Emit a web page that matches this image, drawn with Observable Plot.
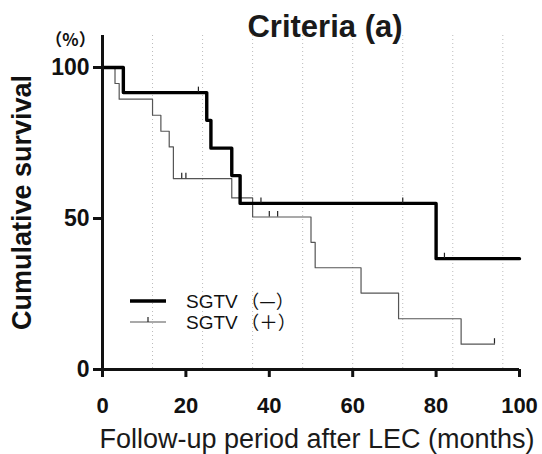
<!DOCTYPE html>
<html>
<head>
<meta charset="utf-8">
<script src="https://cdn.jsdelivr.net/npm/d3@7"></script>
<script src="https://cdn.jsdelivr.net/npm/@observablehq/plot@0.6"></script>
<style>
  html, body { margin: 0; padding: 0; background: #fff; }
  svg { display: block; }
</style>
</head>
<body>
<div id="chart"></div>
<script>
const title = "Criteria (a)";
const xLabel = "Follow-up period after LEC (months)";
const yLabel = "Cumulative survival";
const yUnit = "（%）";
const seriesNames = ["SGTV（—）", "SGTV（＋）"];

// SGTV (−): step times (months) and survival (%)
const negTimes = [0, 5, 25, 26, 31, 33, 80, 100];
const negSurv = [100, 91.7, 82.5, 73.3, 64.2, 55.0, 36.7, 36.7];
const negCensorTimes = [23, 38, 72, 82];
const negCensorSurv = [91.7, 55.0, 55.0, 36.7];

// SGTV (+)
const posTimes = [0, 3, 4, 12, 14, 16, 17, 31, 36, 50, 51, 62, 71, 86, 94];
const posSurv = [100, 94.7, 89.5, 84.2, 78.9, 73.7, 63.2, 56.8, 50.5, 42.1, 33.7, 25.3, 16.8, 8.4, 8.4];
const posCensorTimes = [19, 20, 40, 42, 94];
const posCensorSurv = [63.2, 63.2, 50.5, 50.5, 8.4];

const xTicks = [0, 20, 40, 60, 80, 100];
const yTicks = [0, 50, 100];
const gridTicks = [12, 24, 36, 48, 60, 72, 84, 96];

const neg = negTimes.map((t, i) => ({t, s: negSurv[i]}));
const pos = posTimes.map((t, i) => ({t, s: posSurv[i]}));
const negC = negCensorTimes.map((t, i) => ({t, s: negCensorSurv[i]}));
const posC = posCensorTimes.map((t, i) => ({t, s: posCensorSurv[i]}));

const font = "Liberation Sans, Arial, Helvetica, sans-serif";

const plot = Plot.plot({
  width: 542,
  height: 454,
  marginLeft: 102,
  marginRight: 23,
  marginTop: 35,
  marginBottom: 85,
  style: {fontFamily: font, color: "#111", background: "#fff", overflow: "visible"},
  x: {domain: [0, 100]},
  y: {domain: [0, 110.6]},
  marks: [
    Plot.gridX(gridTicks, {stroke: "#bbb", strokeOpacity: 1, strokeDasharray: "1,3", strokeWidth: 1}),
    // curves
    Plot.line(pos, {x: "t", y: "s", curve: "step-after", stroke: "#555", strokeWidth: 1.2}),
    Plot.line(neg, {x: "t", y: "s", curve: "step-after", stroke: "#000", strokeWidth: 3.4}),
    // censor marks
    Plot.ruleX(posC, {x: "t", y1: "s", y2: d => d.s + 1.8, stroke: "#222", strokeWidth: 1.2}),
    Plot.ruleX(negC, {x: "t", y1: "s", y2: d => d.s + 1.8, stroke: "#222", strokeWidth: 1.2}),
    // axis lines
    Plot.ruleX([0], {y1: 0, y2: 110.6, stroke: "#111", strokeWidth: 3}),
    Plot.ruleY([0], {x1: 0, x2: 100, stroke: "#111", strokeWidth: 3}),
    Plot.axisX({ticks: xTicks, tickSize: 8, strokeWidth: 3, tickPadding: 20, fontSize: 22, fontWeight: "bold", label: null, stroke: "#111"}),
    Plot.axisY({ticks: yTicks, tickSize: 9, strokeWidth: 3, tickPadding: 4, fontSize: 23, fontWeight: "bold", label: null, stroke: "#111"}),
    // texts
    Plot.text([title], {frameAnchor: "top", dx: 14, dy: 1, lineAnchor: "bottom", fontSize: 31, fontWeight: "bold", fill: "#1a1a1a"}),
    Plot.text([yUnit], {frameAnchor: "top-left", dx: -32, dy: 5, lineAnchor: "middle", textAnchor: "middle", fontSize: 17, fontWeight: "bold", fill: "#111", fontFamily: "Noto Sans CJK JP, Liberation Sans, sans-serif"}),
    Plot.text([yLabel], {frameAnchor: "left", dx: -80, dy: 0, rotate: -90, lineAnchor: "middle", textAnchor: "middle", fontSize: 27, fontWeight: "bold", fill: "#111"}),
    Plot.text([xLabel], {frameAnchor: "bottom", dx: 6, dy: 78, lineAnchor: "bottom", fontSize: 27, fill: "#1a1a1a"})
  ]
});

document.getElementById("chart").appendChild(plot);

// Legend inside plot area
const svg = d3.select(plot);
const lg = svg.append("g").attr("font-family", font).attr("text-anchor", "start");
const legendRows = [
  {name: seriesNames[0], y: 301, sw: 3.4, stroke: "#000", tick: false},
  {name: seriesNames[1], y: 322, sw: 1.2, stroke: "#555", tick: true}
];
for (const r of legendRows) {
  lg.append("line").attr("x1", 130).attr("x2", 166).attr("y1", r.y).attr("y2", r.y)
    .attr("stroke", r.stroke).attr("stroke-width", r.sw);
  if (r.tick) {
    lg.append("line").attr("x1", 148).attr("x2", 148).attr("y1", r.y).attr("y2", r.y - 5)
      .attr("stroke", "#222").attr("stroke-width", 1.2);
  }
  const parts = r.name.match(/^(\S+?)(（.*）)$/);
  const t = lg.append("text").attr("x", 186).attr("y", r.y + 6.5).attr("font-size", 19).attr("fill", "#111").attr("text-anchor", "start");
  t.append("tspan").text(parts[1]);
  t.append("tspan").attr("dx", 3).attr("font-family", "Noto Sans CJK JP, sans-serif").attr("font-size", 18.5).text(parts[2]);
}
</script>
</body>
</html>
